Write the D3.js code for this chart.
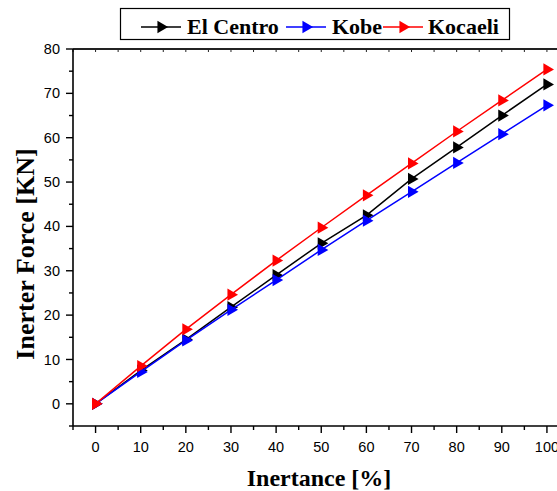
<!DOCTYPE html>
<html>
<head>
<meta charset="utf-8">
<script src="https://cdn.jsdelivr.net/npm/d3@7"></script>
<style>
  body { margin: 0; background: #fff; }
  svg { display: block; }
</style>
</head>
<body>
<svg id="chart" width="557" height="491"></svg>
<script>
// data
const inertance = [0, 10, 20, 30, 40, 50, 60, 70, 80, 90, 100];
const elCentro = [0, 7.5, 14.5, 21.8, 29.0, 36.2, 42.5, 50.7, 57.8, 65.0, 72.0];
const kobe = [0, 7.2, 14.3, 21.2, 27.9, 34.7, 41.3, 47.8, 54.3, 60.8, 67.3];
const kocaeli = [0, 8.5, 16.8, 24.6, 32.3, 39.7, 47.0, 54.2, 61.4, 68.4, 75.4];
const seriesNames = ["El Centro", "Kobe", "Kocaeli"];
const seriesColors = ["#000000", "#0000ff", "#ff0000"];
const xTicks = [0, 10, 20, 30, 40, 50, 60, 70, 80, 90, 100];
const yTicks = [0, 10, 20, 30, 40, 50, 60, 70, 80];

const serif = "'Liberation Serif'";
const sans = "'Liberation Sans'";

const series = [elCentro, kobe, kocaeli].map((vals, i) => ({
    name: seriesNames[i],
    color: seriesColors[i],
    points: vals.map((v, j) => ({ x: inertance[j], y: v }))
}));

const svg = d3.select("#chart");

const x = d3.scaleLinear().domain([-5, 105]).range([73, 569.5]);
const y = d3.scaleLinear().domain([-5, 80]).range([426, 49]);

// minor ticks
const xMinor = d3.range(-5, 106, 5).filter(v => v % 10 !== 0);
const yMinor = d3.range(-5, 81, 5).filter(v => v % 10 !== 0);

// bottom axis
const xAxis = svg.append("g").attr("transform", `translate(0,${y(-5)})`);
xAxis.append("line").attr("x1", x(-5)).attr("x2", x(105)).attr("stroke", "#000").attr("stroke-width", 1.6);
xAxis.selectAll(".maj").data(xTicks).join("line")
    .attr("x1", d => x(d)).attr("x2", d => x(d)).attr("y1", 0).attr("y2", 7)
    .attr("stroke", "#000").attr("stroke-width", 1.4);
xAxis.selectAll(".min").data(xMinor).join("line")
    .attr("x1", d => x(d)).attr("x2", d => x(d)).attr("y1", 0).attr("y2", 4)
    .attr("stroke", "#000").attr("stroke-width", 1.4);
xAxis.selectAll("text").data(xTicks).join("text")
    .attr("x", d => x(d)).attr("y", 26)
    .attr("text-anchor", "middle")
    .attr("font-family", sans)
    .attr("font-size", 14.5)
    .text(d => d);

// top frame line
const topAxis = svg.append("g").attr("transform", `translate(0,${y(80)})`);
topAxis.append("line").attr("x1", x(-5)).attr("x2", x(105)).attr("stroke", "#222").attr("stroke-width", 2);
topAxis.selectAll(".t").data(xTicks.concat(xMinor)).join("line")
    .attr("x1", d => x(d)).attr("x2", d => x(d)).attr("y1", 0).attr("y2", 3)
    .attr("stroke", "#222").attr("stroke-width", 1);

// left axis
const yAxis = svg.append("g").attr("transform", `translate(${x(-5)},0)`);
yAxis.append("line").attr("y1", y(-5)).attr("y2", y(80)).attr("stroke", "#000").attr("stroke-width", 1.6);
yAxis.selectAll(".maj").data(yTicks).join("line")
    .attr("y1", d => y(d)).attr("y2", d => y(d)).attr("x1", 0).attr("x2", -7)
    .attr("stroke", "#000").attr("stroke-width", 1.4);
yAxis.selectAll(".min").data(yMinor).join("line")
    .attr("y1", d => y(d)).attr("y2", d => y(d)).attr("x1", 0).attr("x2", -4)
    .attr("stroke", "#000").attr("stroke-width", 1.4);
yAxis.selectAll("text").data(yTicks).join("text")
    .attr("x", -13).attr("y", d => y(d)).attr("dy", "0.35em")
    .attr("text-anchor", "end")
    .attr("font-family", sans)
    .attr("font-size", 14.5)
    .text(d => d);

// axis titles
svg.append("text")
    .attr("x", 319).attr("y", 486)
    .attr("text-anchor", "middle")
    .attr("font-family", serif).attr("font-weight", "bold")
    .attr("font-size", 24)
    .text("Inertance [%]");
svg.append("text")
    .attr("transform", `translate(34,254) rotate(-90)`)
    .attr("text-anchor", "middle")
    .attr("font-family", serif).attr("font-weight", "bold")
    .attr("font-size", 26)
    .text("Inerter Force [KN]");

// lines and markers
const line = d3.line().x(d => x(d.x)).y(d => y(d.y));
const tri = d3.symbol().type(d3.symbolTriangle).size(65);

const g = svg.append("g");
series.forEach(s => {
    g.append("path").datum(s.points)
        .attr("d", line)
        .attr("fill", "none")
        .attr("stroke", s.color)
        .attr("stroke-width", 1.5);
    g.selectAll(null).data(s.points).join("path")
        .attr("d", tri)
        .attr("transform", d => `translate(${x(d.x)},${y(d.y)}) rotate(90)`)
        .attr("fill", s.color);
});

// legend
const legend = svg.append("g");
legend.append("rect")
    .attr("x", 120.5).attr("y", 8.5).attr("width", 389).attr("height", 31)
    .attr("fill", "#fff").attr("stroke", "#000").attr("stroke-width", 1.2);
const legendX = [141, 286, 383];
const legendTextX = [187, 332, 428];
series.forEach((s, i) => {
    legend.append("line")
        .attr("x1", legendX[i]).attr("x2", legendX[i] + 40)
        .attr("y1", 27).attr("y2", 27)
        .attr("stroke", s.color).attr("stroke-width", 1.5);
    legend.append("path")
        .attr("d", tri)
        .attr("transform", `translate(${legendX[i] + 20},27) rotate(90)`)
        .attr("fill", s.color);
    legend.append("text")
        .attr("x", legendTextX[i]).attr("y", 34)
        .attr("font-family", serif).attr("font-weight", "bold")
        .attr("font-size", 22)
        .text(s.name);
});
</script>
</body>
</html>
